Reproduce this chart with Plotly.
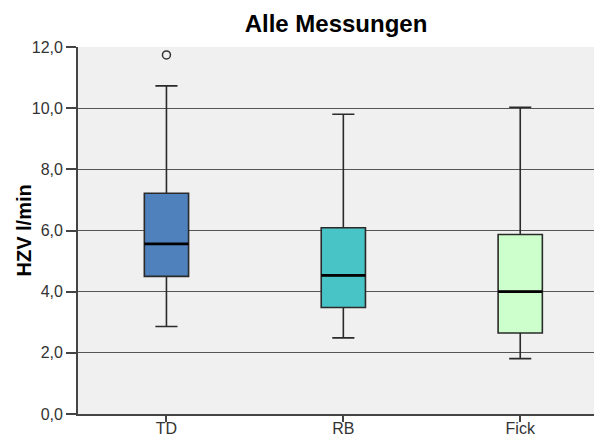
import plotly.graph_objects as go

categories = ["TD", "RB", "Fick"]
lower_whisker = [2.86, 2.49, 1.81]
q1 = [4.50, 3.48, 2.65]
median = [5.56, 4.53, 4.00]
q3 = [7.22, 6.09, 5.87]
upper_whisker = [10.73, 9.80, 10.03]
outlier_cat = [0]
outlier_val = [11.74]
fill_colors = ["#4F81BD", "#48C3C6", "#CCFFCC"]
y_ticks = [0, 2, 4, 6, 8, 10, 12]
y_ticklabels = ["0,0", "2,0", "4,0", "6,0", "8,0", "10,0", "12,0"]

BOX_W = 0.25
fig = go.Figure()
for i, c in enumerate(categories):
    fig.add_trace(go.Box(
        x=[i], q1=[q1[i]], median=[median[i]], q3=[q3[i]],
        lowerfence=[lower_whisker[i]], upperfence=[upper_whisker[i]],
        fillcolor=fill_colors[i], line=dict(color="#2a2a2a", width=1.6),
        width=BOX_W, whiskerwidth=0.5, boxpoints=False, showlegend=False,
        hoverinfo="skip"))

mx, my = [], []
for i in range(len(categories)):
    mx += [i - BOX_W / 2, i + BOX_W / 2, None]
    my += [median[i], median[i], None]
fig.add_trace(go.Scatter(x=mx, y=my, mode="lines",
                         line=dict(color="black", width=2.8),
                         showlegend=False, hoverinfo="skip"))

fig.add_trace(go.Scatter(x=outlier_cat, y=outlier_val, mode="markers",
                         marker=dict(symbol="circle-open", size=8,
                                     color="#333333", line=dict(width=1.5)),
                         showlegend=False, hoverinfo="skip"))

PL, PR, PT, PB = 78, 0, 47, 25
fig.update_layout(
    width=594, height=439,
    margin=dict(l=PL, r=PR, t=PT, b=PB),
    paper_bgcolor="white", plot_bgcolor="#F0F0F0",
    font=dict(family="Liberation Sans, Arial", color="#333333", size=16),
    title=dict(text="<b>Alle Messungen</b>", x=0.5, xref="paper",
               y=1 - 24 / 439, yref="container", yanchor="middle",
               font=dict(size=24, color="black")),
    annotations=[dict(text="<b>HZV l/min</b>", textangle=-90,
                      x=(23 - PL) / (594 - PL - PR), xref="paper",
                      xanchor="center", y=0.5, yref="paper",
                      yanchor="middle", showarrow=False,
                      font=dict(size=20, color="black"))],
)

fig.update_xaxes(range=[-0.5, 2.417], tickvals=[0, 1, 2], ticktext=categories,
                 showgrid=False, zeroline=False, showline=True,
                 linecolor="#444444", linewidth=1.8, ticks="outside",
                 ticklen=6, tickcolor="#444444", tickwidth=1.5,
                 tickfont=dict(size=16), automargin=False,
                 ticklabelstandoff=-7)
fig.update_yaxes(range=[0, 12], tickvals=y_ticks, ticktext=y_ticklabels,
                 showgrid=True, gridcolor="#555555", gridwidth=1.4,
                 zeroline=False, showline=True, linecolor="#444444",
                 linewidth=1.8, ticks="outside", ticklen=10, tickwidth=1.5,
                 tickcolor="#444444", tickfont=dict(size=16), automargin=False)

fig.write_html("out.html")
